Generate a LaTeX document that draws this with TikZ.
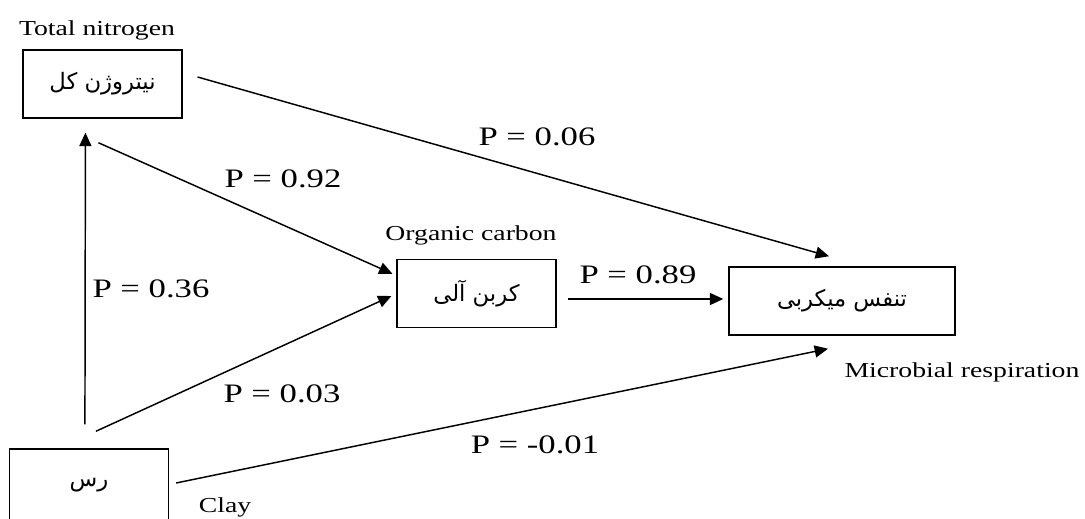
\documentclass[tikz,border=0pt]{standalone}
\usepackage{fontspec}
\usepackage{tikz}
\usetikzlibrary{arrows.meta}
\TeXXeTstate=1
\setmainfont{Liberation Serif}[FakeStretch=1.3]
\newfontfamily\arabicfont[Script=Arabic]{DejaVu Sans}

\tikzset{
    varbox/.style = {draw, line width=1.1pt, minimum width=119pt, minimum height=51pt, inner sep=0pt, font=\arabicfont\fontsize{17}{19}\selectfont},
    varname/.style = {anchor=base, inner sep=0pt, font=\fontsize{16}{18}\selectfont},
    pval/.style = {anchor=base, inner sep=0pt, font=\fontsize{20}{22}\selectfont},
    path/.style = {line width=1.1pt, -{Triangle[length=10pt, width=9pt]}}
}

\begin{document}
\begin{tikzpicture}[x=0.75pt, y=-0.75pt]
            \useasboundingbox (0,0) rectangle (1085,518);
            \clip (0,0) rectangle (1085,518);
            \node[varbox] (nit) at (102.5,84) {\beginR نیتروژن کل\endR};
            \node[varbox] (oc) at (476.5,293.5) {\beginR کربن آلی\endR};
            \node[varbox, minimum width=169.5pt] (mr) at (842,301) {\beginR تنفس میکربی\endR};
            \node[varbox, minimum height=54pt] (clay) at (89,485) {\beginR رس\endR};

            \node[varname] (nitname) at (97,35) {Total nitrogen};
            \node[varname] (ocname) at (471,240) {Organic carbon};
            \node[varname] (mrname) at (962,377) {Microbial respiration};
            \node[varname] (clayname) at (225,512) {Clay};

            \draw[path] ([shift={(76,-24)}]clay.north west) -- ([shift={(63,14)}]nit.south west);
            \draw[path] ([shift={(76,24)}]nit.south west) -- ([shift={(-4,15)}]oc.north west);
            \draw[path] ([shift={(87,-17)}]clay.north west) -- ([shift={(-5,2.5)}]oc.west);
            \draw[path] ([shift={(11,5.5)}]oc.east) -- ([shift={(-5,-2)}]mr.west);
            \draw[path] ([shift={(15,-7)}]nit.east) -- ([shift={(-13,-10)}]mr.north);
            \draw[path] ([shift={(7,-2)}]clay.east) -- ([shift={(-14,13)}]mr.south);

            \node[pval] at (151,297) {P = 0.36};
            \node[pval] at (283,187) {P = 0.92};
            \node[pval] at (537,145) {P = 0.06};
            \node[pval] at (638,283) {P = 0.89};
            \node[pval] at (282,402) {P = 0.03};
            \node[pval] at (535,453) {P = -0.01};
        \end{tikzpicture}
\end{document}
